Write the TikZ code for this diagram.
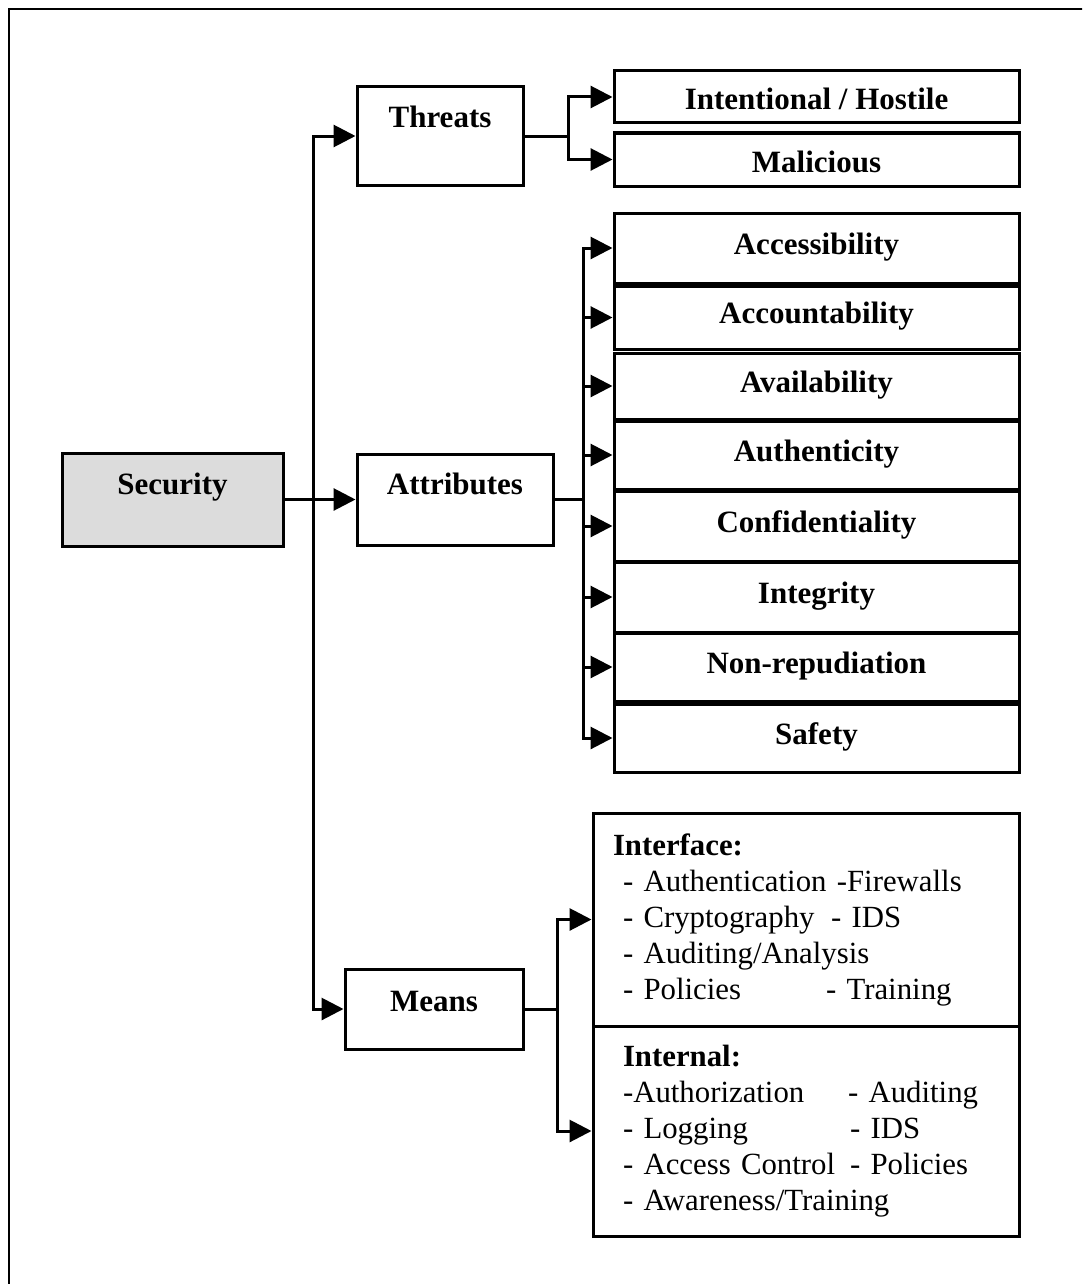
\documentclass[tikz,border=0pt]{standalone}
\usepackage{fontspec}
\setmainfont{Liberation Serif}
\usetikzlibrary{arrows.meta}
\definecolor{secgray}{HTML}{DCDCDC}

\begin{document}
\begin{tikzpicture}[
  x=0.5pt, y=-0.5pt,
  font=\fontsize{15.4}{18}\selectfont,
  >={Triangle[length=11pt,width=11pt]},
  box/.style={draw, line width=1.5pt, inner sep=3pt, font=\fontsize{15.5}{18}\selectfont\bfseries, text height=11pt, text depth=3pt},
  attbox/.style={box, minimum width=202.5pt},
  lift/.style={text depth=#1},
  drop/.style={text height=#1},
  listbox/.style={draw, line width=1.5pt, align=left, inner xsep=10pt, inner ysep=3pt, text width=193pt, minimum width=213pt},
  link/.style={line width=1.5pt},
  frame/.style={line width=1pt}
]
\useasboundingbox (0,0) rectangle (1082,1284);
\clip (0,0) rectangle (1082,1284);
\draw[frame] (8.5,9) rectangle (1120,1320);

\node[box, fill=secgray, minimum width=110.5pt, minimum height=46.5pt, lift=16.5pt] (security) at (172.5,499.5) {Security};
\node[box, minimum width=83pt, minimum height=49pt, lift=20pt] (threats) at (440,136) {Threats};
\node[box, minimum width=98pt, minimum height=45.5pt, lift=16.5pt] (attributes) at (455,499.5) {Attributes};
\node[box, minimum width=89pt, minimum height=40pt, lift=9pt] (means) at (434,1009) {Means};

\node[attbox, minimum height=26pt, drop=16pt] (hostile) at (816.5,97) {Intentional / Hostile};
\node[attbox, minimum height=26.5pt, drop=15.5pt] (malicious) at (816.5,159.5) {Malicious};

\coordinate (trunk) at (313,499.5);
\coordinate (thrfork) at (568,136);
\coordinate (attfork) at (583,499.5);
\coordinate (meansfork) at (557,1009);

\draw[link,->] (security) -- (attributes);
\draw[link,->] (trunk) |- (threats.west);
\draw[link,->] (trunk) |- (means.west);

\draw[link] (threats.east) -- (thrfork);
\draw[link,->] (thrfork) |- (hostile.west);
\draw[link,->] (thrfork) |- (malicious.west);

\draw[link] (attributes.east) -- (attfork);
\foreach \lab/\ya/\yb [count=\i] in {Accessibility/213/283, Accountability/286/349, Availability/353/419, Authenticity/421/489, Confidentiality/491/561, Integrity/562/632, Non-repudiation/633/701, Safety/704/772} {
  \node[attbox, minimum height={(\yb-\ya)/2*1pt}, lift=5pt] (att\i) at (816.5,{(\ya+\yb)/2}) {\lab};
  \draw[link,->] (attfork) |- (att\i.west);
}

% means: two stacked lists
\node[listbox, minimum height=106.5pt] (iface) at (806,919.5) {%
  \textbf{Interface:}\\
  \hspace*{5pt}- Authentication -Firewalls\\
  \hspace*{5pt}\makebox[104pt][l]{- Cryptography}- IDS\\
  \hspace*{5pt}- Auditing/Analysis\\
  \hspace*{5pt}\makebox[101.5pt][l]{- Policies}- Training};
\node[listbox, minimum height=105pt] (intern) at (806,1131) {%
  \hspace*{5pt}\textbf{Internal:}\\
  \hspace*{5pt}\makebox[112.5pt][l]{-Authorization}- Auditing\\
  \hspace*{5pt}\makebox[113.5pt][l]{- Logging}- IDS\\
  \hspace*{5pt}\makebox[113.5pt][l]{- Access Control}- Policies\\
  \hspace*{5pt}- Awareness/Training};

\draw[link] (means.east) -- (meansfork);
\draw[link,->] (meansfork) |- (iface.west);
\draw[link,->] (meansfork) |- (intern.west);

\end{tikzpicture}
\end{document}
